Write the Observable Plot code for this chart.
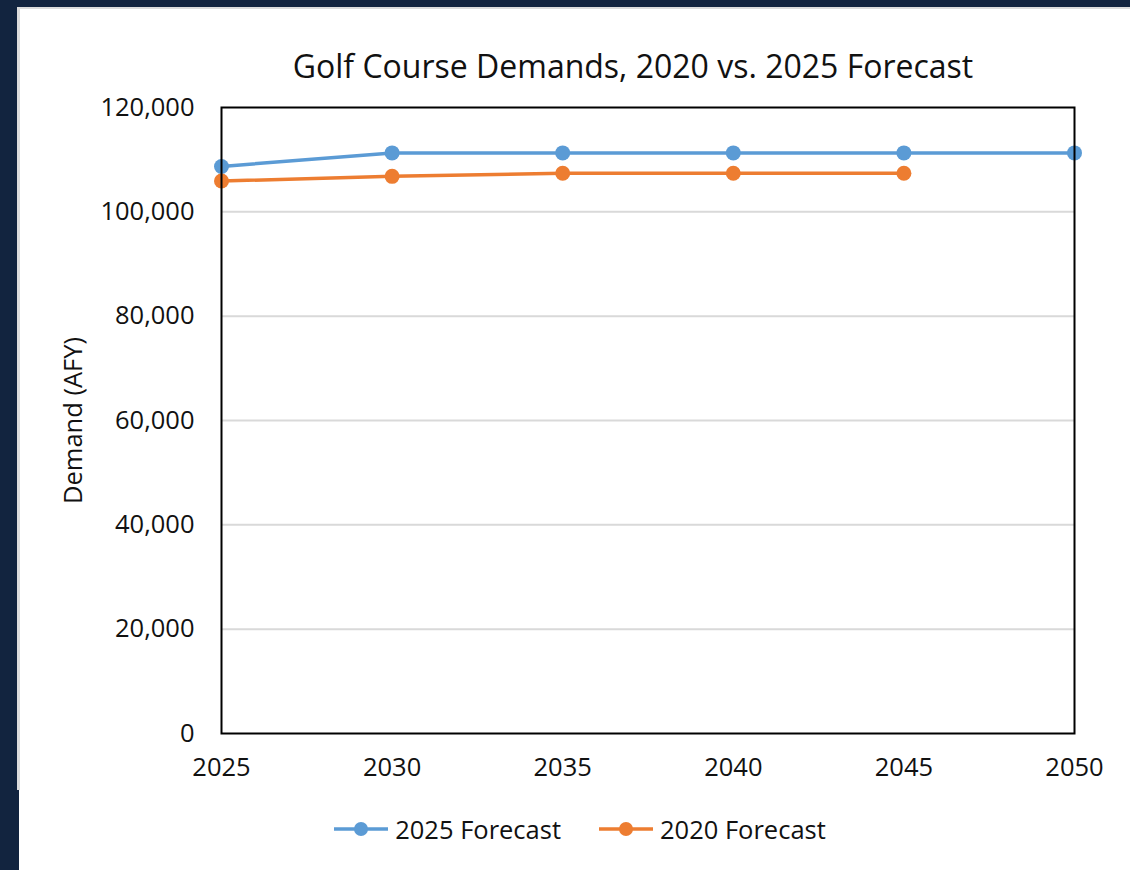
<!DOCTYPE html>
<html>
<head>
<meta charset="utf-8">
<script src="https://cdn.jsdelivr.net/npm/d3@7"></script>
<script src="https://cdn.jsdelivr.net/npm/@observablehq/plot@0.6"></script>
<style>
  html, body { margin: 0; padding: 0; }
  body { width: 1130px; height: 870px; background: #12243f; position: relative; overflow: hidden; font-family: "Open Sans", sans-serif; }
  #panel { position: absolute; left: 17px; top: 7px; right: 0; bottom: 80px; background: #fff; border-left: 3px solid #dcdcdc; border-top: 2px solid #dcdcdc; }
  #panel-low { position: absolute; left: 19px; top: 790px; right: 0; bottom: 0; background: #fff; }
  #title { position: absolute; left: 20px; width: 1226px; top: 44px; text-align: center; font-size: 32px; color: #111; white-space: nowrap; }
  #chart { position: absolute; left: 20px; top: 90px; }
  #legend { position: absolute; top: 812px; left: 0; width: 1130px; display: flex; justify-content: center; gap: 38px; font-size: 25.5px; color: #111; padding-left: 30px; box-sizing: border-box; }
  #legend .item { display: flex; align-items: center; gap: 7px; }
</style>
</head>
<body>
<div id="panel"></div>
<div id="panel-low"></div>
<div id="title">Golf Course Demands, 2020 vs. 2025 Forecast</div>
<div id="chart"></div>
<div id="legend"></div>
<script>
// Forecast years and demand (acre-feet per year) for each forecast vintage
const years = [2025, 2030, 2035, 2040, 2045, 2050];
const forecast2025 = [108700, 111300, 111300, 111300, 111300, 111300];
const forecast2020 = [105900, 106800, 107400, 107400, 107400];
const seriesNames = ["2025 Forecast", "2020 Forecast"];
const seriesColors = ["#5b9bd5", "#ed7d31"];
const yTicks = [0, 20000, 40000, 60000, 80000, 100000, 120000];

const rows = [
  ...forecast2025.map((v, i) => ({year: years[i], demand: v, series: seriesNames[0]})),
  ...forecast2020.map((v, i) => ({year: years[i], demand: v, series: seriesNames[1]}))
];

const chart = Plot.plot({
  width: 1110,
  height: 710,
  marginLeft: 201,
  marginRight: 56,
  marginTop: 17,
  marginBottom: 67,
  style: {fontFamily: "Open Sans, sans-serif", fontSize: "25.5px", color: "#111", background: "transparent"},
  x: {domain: [2025, 2050]},
  y: {domain: [0, 120000]},
  color: {domain: seriesNames, range: seriesColors},
  marks: [
    Plot.gridY(yTicks.slice(1, -1), {stroke: "#d9d9d9", strokeOpacity: 1, strokeWidth: 2}),
    Plot.axisX({ticks: years, tickFormat: d3.format("d"), tickSize: 0, tickPadding: 24, label: null}),
    Plot.axisY({ticks: yTicks, tickFormat: d3.format(","), tickSize: 0, tickPadding: 27,
      label: "Demand (AFY)", labelAnchor: "center", labelArrow: "none", labelOffset: 158}),
    Plot.line(rows, {x: "year", y: "demand", z: "series", stroke: "series", strokeWidth: 3.5}),
    Plot.dot(rows, {x: "year", y: "demand", fill: "series", r: 7.5, stroke: null}),
    Plot.frame({stroke: "#000", strokeWidth: 2})
  ]
});
document.getElementById("chart").appendChild(chart);

// Line-and-marker legend
const legend = document.getElementById("legend");
seriesNames.forEach((name, i) => {
  const item = document.createElement("div");
  item.className = "item";
  item.innerHTML = `<svg width="54" height="20"><line x1="0" x2="54" y1="10" y2="10" stroke="${seriesColors[i]}" stroke-width="3.5"/><circle cx="27" cy="10" r="7" fill="${seriesColors[i]}"/></svg><span>${name}</span>`;
  legend.appendChild(item);
});
</script>
</body>
</html>
